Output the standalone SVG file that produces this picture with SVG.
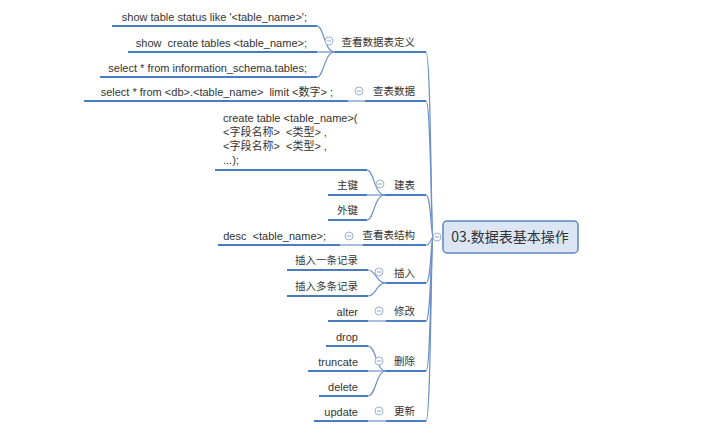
<svg xmlns="http://www.w3.org/2000/svg" width="720" height="445" viewBox="0 0 720 445">
<defs>
<style>
.t{font-family:"Liberation Sans","Noto Sans CJK SC",sans-serif;font-size:11px;fill:#333;}
.c{font-family:"Noto Sans CJK SC","Liberation Sans",sans-serif;font-size:10.5px;fill:#333;}
.u{stroke:#4a7bc1;stroke-width:2;fill:none;stroke-linecap:butt;}
.k{stroke:#6d90c8;stroke-width:1.2;fill:none;}
.o{fill:#fff;stroke:#9ab0d4;stroke-width:1;}
.m{stroke:#8fa6cc;stroke-width:1;}
</style>
<g id="col">
<circle class="o" cx="0" cy="0" r="4"/>
<line class="m" x1="-2.2" y1="0" x2="2.2" y2="0"/>
</g>
</defs>
<rect width="720" height="445" fill="#fff"/>
<g id="connectors">
<path class="k" d="M433,237 C431,237 431,52 426,52"/>
<path class="k" d="M433,237 C431,237 431,101 426,101"/>
<path class="k" d="M433,237 C431,237 431,195 426,195"/>
<path class="k" d="M433,237 C431,237 431,245 426,245"/>
<path class="k" d="M433,237 C431,237 431,283 426,283"/>
<path class="k" d="M433,237 C431,237 431,321 426,321"/>
<path class="k" d="M433,237 C431,237 431,371 426,371"/>
<path class="k" d="M433,237 C431,237 431,421 426,421"/>
<path class="k" d="M335,52 C324,52 324,26 317,26"/>
<path class="k" d="M335,52 L317,52"/>
<path class="k" d="M335,52 C324,52 324,77 317,77"/>
<path class="k" d="M365,101 L348,101"/>
<path class="k" d="M385,195 C374,195 374,170 367,170"/>
<path class="k" d="M385,195 L367,195"/>
<path class="k" d="M385,195 C374,195 374,220 367,220"/>
<path class="k" d="M363,245 L340,245"/>
<path class="k" d="M386,283 C376,283 376,270 368,270"/>
<path class="k" d="M386,283 C376,283 376,296 368,296"/>
<path class="k" d="M386,321 L368,321"/>
<path class="k" d="M386,371 C376,371 376,346 368,346"/>
<path class="k" d="M386,371 L368,371"/>
<path class="k" d="M386,371 C376,371 376,396 368,396"/>
<path class="k" d="M386,421 L368,421"/>
</g>
<g id="root">
<rect x="443" y="221" width="135" height="32" rx="4" fill="#dbe5f4" stroke="#5b86c5" stroke-width="1.5"/>
<text class="c" x="510" y="242" text-anchor="middle" style="font-size:14px">03.数据表基本操作</text>
<use href="#col" x="437" y="237"/>
</g>
<g id="n-define">
<line class="u" x1="335" y1="52" x2="426" y2="52"/>
<text class="c" x="415" y="46" text-anchor="end">查看数据表定义</text>
<use href="#col" x="329" y="41"/>
</g>
<g id="n-define-1">
<line class="u" x1="112" y1="26" x2="317" y2="26"/>
<text class="t" x="307" y="21" text-anchor="end">show table status like '&lt;table_name&gt;';</text>
</g>
<g id="n-define-2">
<line class="u" x1="128" y1="52" x2="317" y2="52"/>
<text class="t" x="307" y="47" text-anchor="end" xml:space="preserve">show  create tables &lt;table_name&gt;;</text>
</g>
<g id="n-define-3">
<line class="u" x1="100" y1="77" x2="317" y2="77"/>
<text class="t" x="307" y="72" text-anchor="end">select * from information_schema.tables;</text>
</g>
<g id="n-query">
<line class="u" x1="365" y1="101" x2="426" y2="101"/>
<text class="c" x="415" y="95" text-anchor="end">查表数据</text>
<use href="#col" x="359" y="91"/>
</g>
<g id="n-query-1">
<line class="u" x1="84" y1="101" x2="348" y2="101"/>
<text class="t" x="333" y="96" text-anchor="end" xml:space="preserve">select * from &lt;db&gt;.&lt;table_name&gt;  limit &lt;数字&gt; ;</text>
</g>
<g id="n-create">
<line class="u" x1="385" y1="195" x2="426" y2="195"/>
<text class="c" x="415" y="189" text-anchor="end">建表</text>
<use href="#col" x="380" y="184"/>
</g>
<g id="n-create-1">
<line class="u" x1="215" y1="170" x2="367" y2="170"/>
<text class="t" x="223" y="122">create table &lt;table_name&gt;(</text>
<text class="t" x="223" y="136" xml:space="preserve">&lt;字段名称&gt;  &lt;类型&gt; ,</text>
<text class="t" x="223" y="150" xml:space="preserve">&lt;字段名称&gt;  &lt;类型&gt; ,</text>
<text class="t" x="223" y="164">...);</text>
</g>
<g id="n-create-2">
<line class="u" x1="328" y1="195" x2="367" y2="195"/>
<text class="c" x="358" y="189" text-anchor="end">主键</text>
</g>
<g id="n-create-3">
<line class="u" x1="328" y1="220" x2="367" y2="220"/>
<text class="c" x="358" y="214" text-anchor="end">外键</text>
</g>
<g id="n-desc">
<line class="u" x1="363" y1="245" x2="426" y2="245"/>
<text class="c" x="415" y="239" text-anchor="end">查看表结构</text>
<use href="#col" x="349" y="236"/>
</g>
<g id="n-desc-1">
<line class="u" x1="218" y1="245" x2="340" y2="245"/>
<text class="t" x="326" y="240" text-anchor="end" xml:space="preserve">desc  &lt;table_name&gt;;</text>
</g>
<g id="n-insert">
<line class="u" x1="386" y1="283" x2="426" y2="283"/>
<text class="c" x="415" y="277" text-anchor="end">插入</text>
<use href="#col" x="379" y="272"/>
</g>
<g id="n-insert-1">
<line class="u" x1="287" y1="270" x2="368" y2="270"/>
<text class="c" x="358" y="264" text-anchor="end">插入一条记录</text>
</g>
<g id="n-insert-2">
<line class="u" x1="287" y1="296" x2="368" y2="296"/>
<text class="c" x="358" y="290" text-anchor="end">插入多条记录</text>
</g>
<g id="n-alter">
<line class="u" x1="386" y1="321" x2="426" y2="321"/>
<text class="c" x="415" y="315" text-anchor="end">修改</text>
<use href="#col" x="379" y="311"/>
</g>
<g id="n-alter-1">
<line class="u" x1="328" y1="321" x2="368" y2="321"/>
<text class="t" x="358" y="316" text-anchor="end">alter</text>
</g>
<g id="n-delete">
<line class="u" x1="386" y1="371" x2="426" y2="371"/>
<text class="c" x="415" y="365" text-anchor="end">删除</text>
<use href="#col" x="379" y="361"/>
</g>
<g id="n-delete-1">
<line class="u" x1="326" y1="346" x2="368" y2="346"/>
<text class="t" x="358" y="341" text-anchor="end">drop</text>
</g>
<g id="n-delete-2">
<line class="u" x1="308" y1="371" x2="368" y2="371"/>
<text class="t" x="358" y="366" text-anchor="end">truncate</text>
</g>
<g id="n-delete-3">
<line class="u" x1="319" y1="396" x2="368" y2="396"/>
<text class="t" x="358" y="391" text-anchor="end">delete</text>
</g>
<g id="n-update">
<line class="u" x1="386" y1="421" x2="426" y2="421"/>
<text class="c" x="415" y="415" text-anchor="end">更新</text>
<use href="#col" x="379" y="411"/>
</g>
<g id="n-update-1">
<line class="u" x1="314" y1="421" x2="368" y2="421"/>
<text class="t" x="358" y="416" text-anchor="end">update</text>
</g>
</svg>
